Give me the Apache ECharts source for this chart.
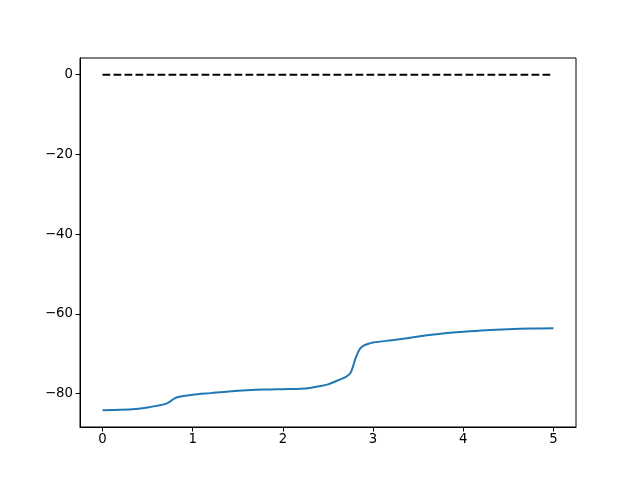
<!DOCTYPE html>
<html><head><meta charset="utf-8">
<script src="https://cdn.jsdelivr.net/npm/echarts@6/dist/echarts.min.js"></script>
<style>html,body{margin:0;padding:0;background:#fff}#c{width:640px;height:480px}</style>
</head><body><div id="c"></div>
<script>
const curveX = [0,0.2,0.4,0.5,0.6,0.7,0.75,0.8,0.85,0.9,1.0,1.2,1.4,1.6,1.8,2.0,2.2,2.3,2.4,2.5,2.6,2.7,2.75,2.78,2.8,2.83,2.86,2.9,2.95,3.0,3.25,3.5,3.75,4.0,4.25,4.5,4.75,5.0];
const curveY = [-84.2,-84.1,-83.8,-83.5,-83.1,-82.6,-82.0,-81.2,-80.8,-80.6,-80.3,-79.9,-79.5,-79.2,-79.0,-78.9,-78.8,-78.6,-78.2,-77.7,-76.8,-75.8,-74.8,-73.0,-71.5,-69.8,-68.6,-67.9,-67.5,-67.2,-66.5,-65.7,-65.0,-64.5,-64.1,-63.85,-63.7,-63.6];
const refX = [0,5];
const refY = [0,0];
const xTicks = [0,1,2,3,4,5];
const yTicks = [-80,-60,-40,-20,0];

const fmt = v => String(v).replace('-', '\u2212');
const chart = echarts.init(document.getElementById('c'), null, {renderer:'canvas'});
const font = {fontFamily:'DejaVu Sans', fontSize:13.3, color:'#000'};
chart.setOption({
  animation:false,
  grid:{left:80,right:64,top:58,bottom:53,show:true,borderColor:'#000',borderWidth:1,backgroundColor:'transparent'},
  xAxis:{type:'value',min:-0.25,max:5.25,
    axisLine:{show:true,onZero:false,lineStyle:{color:'#000',width:1}},
    axisTick:{show:true,length:4.5,lineStyle:{color:'#000'},customValues:xTicks},
    axisLabel:Object.assign({margin:6,customValues:xTicks,formatter:fmt},font),
    splitLine:{show:false}},
  yAxis:{type:'value',min:-88.4,max:4.2,
    axisLine:{show:true,onZero:false,lineStyle:{color:'#000',width:1}},
    axisTick:{show:true,length:4.5,lineStyle:{color:'#000'},customValues:yTicks},
    axisLabel:Object.assign({margin:7,customValues:yTicks,formatter:fmt},font),
    splitLine:{show:false}},
  series:[
    {type:'line',data:refX.map((x,i)=>[x,refY[i]]),symbol:'none',
     lineStyle:{color:'#000',width:2,type:[7.7,3.3]}},
    {type:'line',data:curveX.map((x,i)=>[x,curveY[i]]),symbol:'none',smooth:0.3,
     lineStyle:{color:'#1f77b4',width:2}}
  ]
});
</script></body></html>
